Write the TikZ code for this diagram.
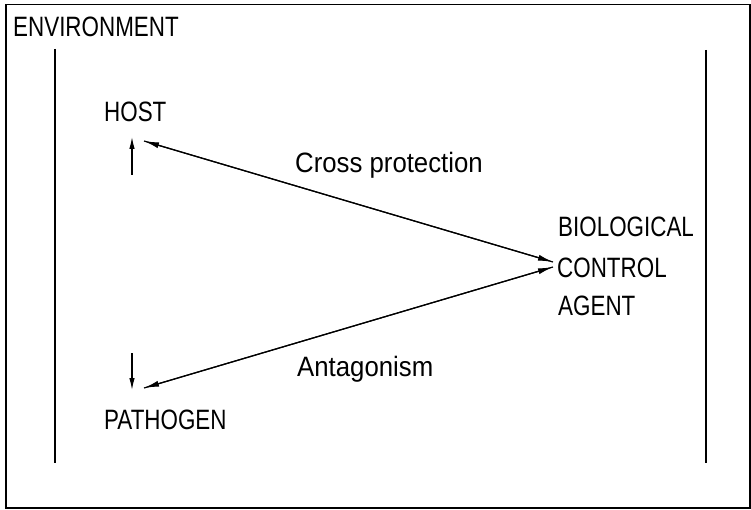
\documentclass[tikz,border=0pt]{standalone}
\usepackage{fontspec}
\setmainfont{Liberation Sans}
\newfontfamily\capsfont[FakeStretch=0.8]{Liberation Sans}
\newfontfamily\lowfont[FakeStretch=0.92]{Liberation Sans}
\usetikzlibrary{arrows.meta}
\begin{document}
\begin{tikzpicture}[x=1pt,y=-1pt,
  caplabel/.style={anchor=base west,inner sep=0pt,font=\capsfont\fontsize{28}{32}\selectfont},
  lowlabel/.style={anchor=base west,inner sep=0pt,font=\lowfont\fontsize{28}{32}\selectfont},
  frameline/.style={line width=1.5pt},
  wall/.style={line width=1.3pt},
  conn/.style={line width=1.2pt,-{Latex[length=15pt,width=6pt]}},
  short/.style={line width=1.2pt,-{Latex[length=12pt,width=5.5pt]}}]
\useasboundingbox (0,0) rectangle (751,510);
\node[draw,frameline,minimum width=744pt,minimum height=503pt,anchor=north west,inner sep=0pt] (frame) at (5,4) {};
\node[caplabel] (env) at (13,37) {ENVIRONMENT};
\coordinate (lwtop) at (55,49);
\coordinate (lwbot) at (55,463);
\coordinate (rwtop) at (706,50);
\coordinate (rwbot) at (706,463);
\draw[wall] (lwtop) -- (lwbot);
\draw[wall] (rwtop) -- (rwbot);
\node[caplabel] (host) at (104,122) {HOST};
\node[caplabel] (path) at (104,429) {PATHOGEN};
\node[caplabel] (bio) at (558,237) {BIOLOGICAL};
\node[caplabel] (ctrl) at (557,277) {CONTROL};
\node[caplabel] (agent) at (558,315) {AGENT};
\node[lowlabel] (cross) at (295,173) {Cross protection};
\node[lowlabel] (ant) at (297,376) {Antagonism};
\coordinate (upfrom) at (132,175);
\coordinate (upto) at (132,137);
\coordinate (downfrom) at (132,353);
\coordinate (downto) at (132,390);
\coordinate (hostend) at (144,141);
\coordinate (pathend) at (144,388);
\coordinate (bcaA) at (553,262);
\coordinate (bcaB) at (553,267);
\draw[short] (upfrom) -- (upto);
\draw[short] (downfrom) -- (downto);
\draw[conn] (hostend) -- (bcaA);
\draw[conn] (bcaA) -- (hostend);
\draw[conn] (pathend) -- (bcaB);
\draw[conn] (bcaB) -- (pathend);
\end{tikzpicture}
\end{document}
